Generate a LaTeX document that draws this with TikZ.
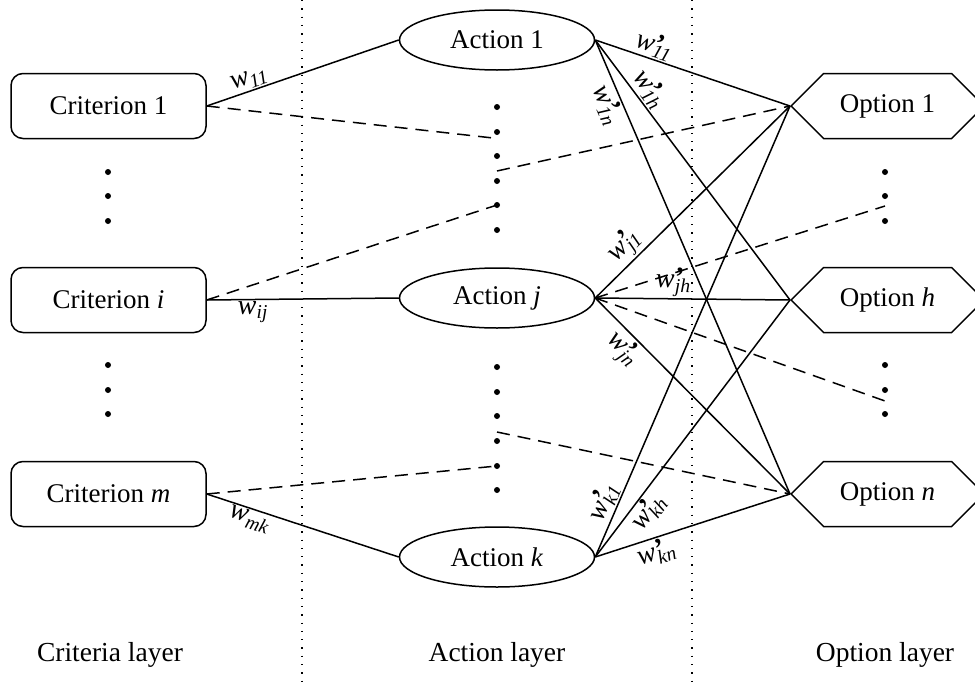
\documentclass[tikz,border=0pt]{standalone}
\usepackage{fontspec}
\setmainfont{Liberation Serif}
\usetikzlibrary{shapes.geometric,shapes.symbols}

% weight labels
\newcommand{\wt}[1]{\textit{w}\textsubscript{\textit{#1}}}
\newcommand{\wtp}[1]{\textit{w}\kern0.5pt\rlap{\raisebox{0.1ex}{\textbf{'}}}\textsubscript{\textit{#1}}}

\begin{document}
\begin{tikzpicture}[x=1pt,y=-1pt,
  every node/.style={font=\fontsize{27}{31}\selectfont},
  crit/.style={draw, rounded corners=12pt, minimum width=195pt, minimum height=65pt, line width=1.5pt, inner sep=0pt},
  act/.style={draw, ellipse, minimum width=195pt, minimum height=60pt, line width=1.5pt, inner sep=0pt},
  opt/.style={draw, signal, signal to=west and east, signal pointer angle=90, minimum width=193pt, minimum height=65pt, line width=1.5pt, inner sep=0pt},
  link/.style={line width=1.5pt},
  dlink/.style={line width=1.5pt, dash pattern=on 13pt off 8pt},
  divider/.style={line width=1.3pt, dash pattern=on 1.3pt off 7pt},
  wlab/.style={font=\fontsize{28}{32}\selectfont, inner sep=1.5pt, sloped},
  dot/.style={circle, fill, inner sep=0pt, minimum size=6pt},
  layer/.style={font=\fontsize{27.5}{32}\selectfont}
]
\useasboundingbox (0,0) rectangle (975,683);

% layer dividers
\draw[divider] (302,0) -- (302,683);
\draw[divider] (692,0) -- (692,683);

% criteria layer
\node[crit] (c1) at (108.5,106) {Criterion 1};
\node[crit] (ci) at (108.5,300) {Criterion \textit{i}};
\node[crit] (cm) at (108.5,494) {Criterion \textit{m}};

% action layer
\node[act] (a1) at (497,40) {Action 1};
\node[act] (aj) at (497,298) {Action \textit{j}};
\node[act] (ak) at (497,557) {Action \textit{k}};

% option layer
\node[opt, anchor=west] (o1) at (790,106) {Option 1};
\node[opt, anchor=west] (oh) at (790,300) {Option \textit{h}};
\node[opt, anchor=west] (on) at (790,494) {Option \textit{n}};

% ellipsis dots
\foreach \y in {172,196,221,365,390,414} {
  \node[dot] at (108,\y) {};
  \node[dot] at (885,\y) {};
}
\foreach \y in {107,132,156,181,205,230,367,392,416,441,466,490}
  \node[dot] at (497,\y) {};

% free ends of the dashed links
\coordinate (d1) at (493,138);
\coordinate (d2) at (497,171);
\coordinate (d3) at (497,205);
\coordinate (d4) at (497,432);
\coordinate (d5) at (497,466);
\coordinate (e1) at (885,206);
\coordinate (e2) at (885,401);

% criteria -> actions
\draw[link] (c1.east) -- node[wlab, pos=0.24, above] {\wt{11}} (a1.west);
\draw[link] (ci.east) -- node[wlab, pos=0.24, below] {\wt{ij}} (aj.west);
\draw[link] (cm.east) -- node[wlab, pos=0.24, below] {\wt{mk}} (ak.west);
\draw[dlink] (c1.east) -- (d1);
\draw[dlink] (ci.east) -- (d3);
\draw[dlink] (cm.east) -- (d5);

% actions -> options
\draw[link] (a1.east) -- node[wlab, pos=0.28, above] {\wtp{11}} (o1.west);
\draw[link] (a1.east) -- node[wlab, pos=0.22, above] {\wtp{1h}} (oh.west);
\draw[link] (a1.east) -- node[wlab, pos=0.13, below] {\wtp{1n}} (on.west);
\draw[link] (aj.east) -- node[wlab, pos=0.21, above] {\wtp{j1}} (o1.west);
\draw[link] (aj.east) -- node[wlab, pos=0.40, above] {\wtp{jh}} (oh.west);
\draw[link] (aj.east) -- node[wlab, pos=0.20, below] {\wtp{jn}} (on.west);
\draw[link] (ak.east) -- node[wlab, pos=0.11, above] {\wtp{k1}} (o1.west);
\draw[link] (ak.east) -- node[wlab, pos=0.21, below] {\wtp{kh}} (oh.west);
\draw[link] (ak.east) -- node[wlab, pos=0.29, below] {\wtp{kn}} (on.west);
\draw[dlink] (d2) -- (o1.west);
\draw[dlink] (d4) -- (on.west);
\draw[dlink] (aj.east) -- (e1);
\draw[dlink] (aj.east) -- (e2);

% layer captions
\node[layer] (lc) at (110,655) {Criteria layer};
\node[layer] (la) at (497,655) {Action layer};
\node[layer] (lo) at (885,655) {Option layer};
\end{tikzpicture}
\end{document}
